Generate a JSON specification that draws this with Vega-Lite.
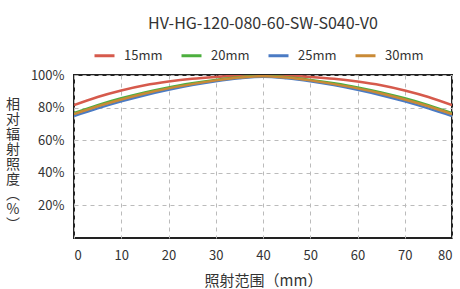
{
  "$schema": "https://vega.github.io/schema/vega-lite/v6.json",
  "width": 378,
  "height": 163,
  "autosize": "none",
  "padding": {"left": 74, "top": 75, "right": 8, "bottom": 51},
  "config": {
    "font": "Noto Sans CJK SC",
    "view": {"stroke": "#222", "strokeWidth": 2}
  },
  "title": {
    "text": "HV-HG-120-080-60-SW-S040-V0",
    "fontSize": 16,
    "fontWeight": "normal",
    "color": "#333",
    "anchor": "middle",
    "frame": "group",
    "offset": 12
  },
  "data": {
    "values": [
      {"x": 0, "s": "15mm", "y": 81.5}, {"x": 5, "s": "15mm", "y": 86.5}, {"x": 10, "s": "15mm", "y": 90.5}, {"x": 15, "s": "15mm", "y": 93.7}, {"x": 20, "s": "15mm", "y": 96.0}, {"x": 25, "s": "15mm", "y": 97.7}, {"x": 30, "s": "15mm", "y": 98.8}, {"x": 35, "s": "15mm", "y": 99.6}, {"x": 40, "s": "15mm", "y": 100}, {"x": 45, "s": "15mm", "y": 99.6}, {"x": 50, "s": "15mm", "y": 98.8}, {"x": 55, "s": "15mm", "y": 97.7}, {"x": 60, "s": "15mm", "y": 96.0}, {"x": 65, "s": "15mm", "y": 93.7}, {"x": 70, "s": "15mm", "y": 90.5}, {"x": 75, "s": "15mm", "y": 86.5}, {"x": 80, "s": "15mm", "y": 81.5},
      {"x": 0, "s": "20mm", "y": 76.6}, {"x": 5, "s": "20mm", "y": 81.5}, {"x": 10, "s": "20mm", "y": 85.7}, {"x": 15, "s": "20mm", "y": 89.3}, {"x": 20, "s": "20mm", "y": 92.4}, {"x": 25, "s": "20mm", "y": 94.9}, {"x": 30, "s": "20mm", "y": 97.0}, {"x": 35, "s": "20mm", "y": 98.6}, {"x": 40, "s": "20mm", "y": 99.5}, {"x": 45, "s": "20mm", "y": 98.6}, {"x": 50, "s": "20mm", "y": 97.0}, {"x": 55, "s": "20mm", "y": 94.9}, {"x": 60, "s": "20mm", "y": 92.4}, {"x": 65, "s": "20mm", "y": 89.3}, {"x": 70, "s": "20mm", "y": 85.7}, {"x": 75, "s": "20mm", "y": 81.5}, {"x": 80, "s": "20mm", "y": 76.6},
      {"x": 0, "s": "25mm", "y": 74.8}, {"x": 5, "s": "25mm", "y": 79.5}, {"x": 10, "s": "25mm", "y": 83.8}, {"x": 15, "s": "25mm", "y": 87.6}, {"x": 20, "s": "25mm", "y": 90.9}, {"x": 25, "s": "25mm", "y": 93.8}, {"x": 30, "s": "25mm", "y": 96.2}, {"x": 35, "s": "25mm", "y": 98.0}, {"x": 40, "s": "25mm", "y": 99.0}, {"x": 45, "s": "25mm", "y": 98.0}, {"x": 50, "s": "25mm", "y": 96.2}, {"x": 55, "s": "25mm", "y": 93.8}, {"x": 60, "s": "25mm", "y": 90.9}, {"x": 65, "s": "25mm", "y": 87.6}, {"x": 70, "s": "25mm", "y": 83.8}, {"x": 75, "s": "25mm", "y": 79.5}, {"x": 80, "s": "25mm", "y": 74.8},
      {"x": 0, "s": "30mm", "y": 76.0}, {"x": 5, "s": "30mm", "y": 80.8}, {"x": 10, "s": "30mm", "y": 85.0}, {"x": 15, "s": "30mm", "y": 88.7}, {"x": 20, "s": "30mm", "y": 91.8}, {"x": 25, "s": "30mm", "y": 94.4}, {"x": 30, "s": "30mm", "y": 96.7}, {"x": 35, "s": "30mm", "y": 98.4}, {"x": 40, "s": "30mm", "y": 99.3}, {"x": 45, "s": "30mm", "y": 98.4}, {"x": 50, "s": "30mm", "y": 96.7}, {"x": 55, "s": "30mm", "y": 94.4}, {"x": 60, "s": "30mm", "y": 91.8}, {"x": 65, "s": "30mm", "y": 88.7}, {"x": 70, "s": "30mm", "y": 85.0}, {"x": 75, "s": "30mm", "y": 80.8}, {"x": 80, "s": "30mm", "y": 76.0}
    ]
  },
  "mark": {"type": "line", "strokeWidth": 2.5, "interpolate": "monotone", "clip": true},
  "encoding": {
    "x": {
      "field": "x", "type": "quantitative",
      "scale": {"domain": [0, 80], "nice": false, "zero": false},
      "axis": {
        "values": [0, 10, 20, 30, 40, 50, 60, 70, 80],
        "title": "照射范围（mm）",
        "titleFontSize": 15, "titleFontWeight": "normal", "titleColor": "#333", "titlePadding": 11,
        "labelFontSize": 13, "labelColor": "#333", "labelPadding": 11,
        "domain": false, "ticks": false,
        "grid": true, "gridColor": "#bbb", "gridDash": [4, 4], "gridWidth": 1
      }
    },
    "y": {
      "field": "y", "type": "quantitative",
      "scale": {"domain": [0, 100], "nice": false},
      "axis": {
        "values": [20, 40, 60, 80, 100],
        "labelExpr": "datum.value + '%'",
        "title": ["相", "对", "辐", "射", "照", "度", "︵", "%", "︶"],
        "titleAngle": 0, "titleAlign": "center", "titleBaseline": "top",
        "titleX": -61.5, "titleY": 22, "titleLineHeight": 15,
        "titleFontSize": 14, "titleFontWeight": "normal", "titleColor": "#333",
        "labelFontSize": 13, "labelColor": "#333", "labelPadding": 10,
        "domain": false, "ticks": false,
        "grid": true, "gridColor": "#bbb", "gridDash": [4, 4], "gridWidth": 1
      }
    },
    "color": {
      "field": "s", "type": "nominal",
      "scale": {"domain": ["15mm", "20mm", "25mm", "30mm"], "range": ["#d65a4c", "#4caf3e", "#4b7bc4", "#c98a36"]},
      "legend": {
        "title": null, "orient": "none", "direction": "horizontal", "columns": 4,
        "legendX": 19, "legendY": -31,
        "symbolType": "stroke", "symbolSize": 400, "symbolStrokeWidth": 3,
        "labelFontSize": 13, "labelColor": "#333", "labelOffset": 8,
        "columnPadding": 12
      }
    }
  }
}
